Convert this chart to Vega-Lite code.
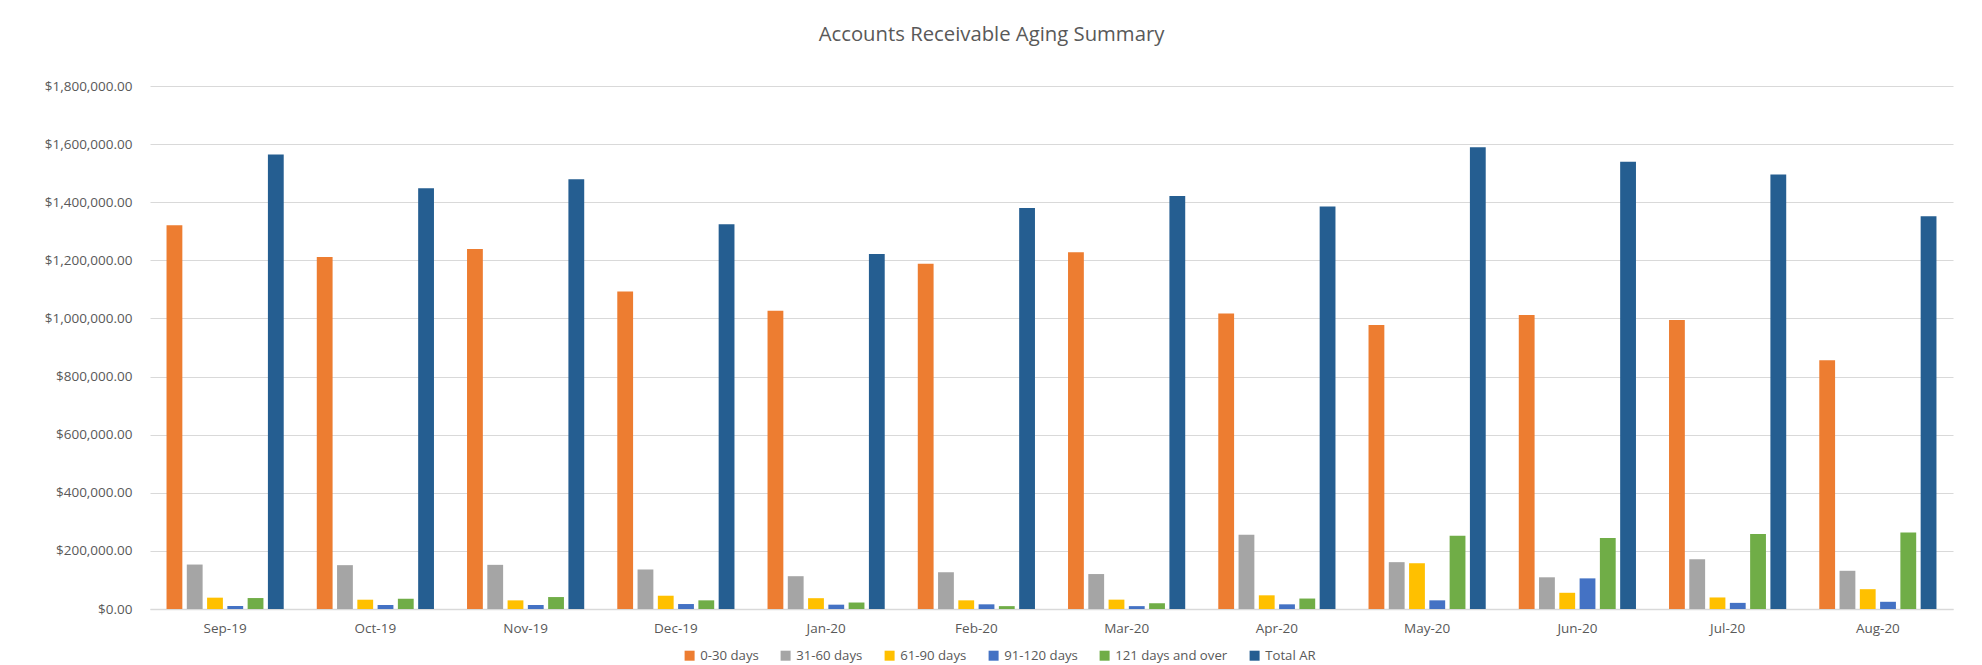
{
  "$schema": "https://vega.github.io/schema/vega-lite/v6.json",
  "width": 1803,
  "height": 523,
  "autosize": {"type": "none"},
  "padding": {"left": 150, "top": 86, "right": 29, "bottom": 56},
  "background": "white",
  "title": {
    "text": "Accounts Receivable Aging Summary",
    "font": "Open Sans",
    "fontSize": 20.3,
    "fontWeight": "normal",
    "color": "#595959",
    "anchor": "middle",
    "frame": "group",
    "dx": -60,
    "offset": 34
  },
  "config": {
    "view": {"stroke": null},
    "font": "Open Sans"
  },
  "data": {
    "values": [
      {"month": "Sep-19", "category": "0-30 days", "value": 1321000},
      {"month": "Sep-19", "category": "31-60 days", "value": 153000},
      {"month": "Sep-19", "category": "61-90 days", "value": 39000},
      {"month": "Sep-19", "category": "91-120 days", "value": 10300},
      {"month": "Sep-19", "category": "121 days and over", "value": 37700},
      {"month": "Sep-19", "category": "Total AR", "value": 1564600},
      {"month": "Oct-19", "category": "0-30 days", "value": 1211400},
      {"month": "Oct-19", "category": "31-60 days", "value": 150900},
      {"month": "Oct-19", "category": "61-90 days", "value": 32000},
      {"month": "Oct-19", "category": "91-120 days", "value": 13700},
      {"month": "Oct-19", "category": "121 days and over", "value": 35400},
      {"month": "Oct-19", "category": "Total AR", "value": 1448000},
      {"month": "Nov-19", "category": "0-30 days", "value": 1238900},
      {"month": "Nov-19", "category": "31-60 days", "value": 152000},
      {"month": "Nov-19", "category": "61-90 days", "value": 29700},
      {"month": "Nov-19", "category": "91-120 days", "value": 13700},
      {"month": "Nov-19", "category": "121 days and over", "value": 41100},
      {"month": "Nov-19", "category": "Total AR", "value": 1478900},
      {"month": "Dec-19", "category": "0-30 days", "value": 1092600},
      {"month": "Dec-19", "category": "31-60 days", "value": 136000},
      {"month": "Dec-19", "category": "61-90 days", "value": 45700},
      {"month": "Dec-19", "category": "91-120 days", "value": 17100},
      {"month": "Dec-19", "category": "121 days and over", "value": 29800},
      {"month": "Dec-19", "category": "Total AR", "value": 1324600},
      {"month": "Jan-20", "category": "0-30 days", "value": 1026300},
      {"month": "Jan-20", "category": "31-60 days", "value": 112900},
      {"month": "Jan-20", "category": "61-90 days", "value": 37200},
      {"month": "Jan-20", "category": "91-120 days", "value": 14900},
      {"month": "Jan-20", "category": "121 days and over", "value": 22300},
      {"month": "Jan-20", "category": "Total AR", "value": 1221700},
      {"month": "Feb-20", "category": "0-30 days", "value": 1188200},
      {"month": "Feb-20", "category": "31-60 days", "value": 126500},
      {"month": "Feb-20", "category": "61-90 days", "value": 29800},
      {"month": "Feb-20", "category": "91-120 days", "value": 16100},
      {"month": "Feb-20", "category": "121 days and over", "value": 9900},
      {"month": "Feb-20", "category": "Total AR", "value": 1380500},
      {"month": "Mar-20", "category": "0-30 days", "value": 1227900},
      {"month": "Mar-20", "category": "31-60 days", "value": 120300},
      {"month": "Mar-20", "category": "61-90 days", "value": 32200},
      {"month": "Mar-20", "category": "91-120 days", "value": 9900},
      {"month": "Mar-20", "category": "121 days and over", "value": 19800},
      {"month": "Mar-20", "category": "Total AR", "value": 1421400},
      {"month": "Apr-20", "category": "0-30 days", "value": 1017000},
      {"month": "Apr-20", "category": "31-60 days", "value": 255500},
      {"month": "Apr-20", "category": "61-90 days", "value": 47100},
      {"month": "Apr-20", "category": "91-120 days", "value": 16100},
      {"month": "Apr-20", "category": "121 days and over", "value": 36000},
      {"month": "Apr-20", "category": "Total AR", "value": 1385400},
      {"month": "May-20", "category": "0-30 days", "value": 977300},
      {"month": "May-20", "category": "31-60 days", "value": 161200},
      {"month": "May-20", "category": "61-90 days", "value": 157500},
      {"month": "May-20", "category": "91-120 days", "value": 29800},
      {"month": "May-20", "category": "121 days and over", "value": 251800},
      {"month": "May-20", "category": "Total AR", "value": 1588800},
      {"month": "Jun-20", "category": "0-30 days", "value": 1012100},
      {"month": "Jun-20", "category": "31-60 days", "value": 109100},
      {"month": "Jun-20", "category": "61-90 days", "value": 55800},
      {"month": "Jun-20", "category": "91-120 days", "value": 105400},
      {"month": "Jun-20", "category": "121 days and over", "value": 244300},
      {"month": "Jun-20", "category": "Total AR", "value": 1539200},
      {"month": "Jul-20", "category": "0-30 days", "value": 994700},
      {"month": "Jul-20", "category": "31-60 days", "value": 171200},
      {"month": "Jul-20", "category": "61-90 days", "value": 39700},
      {"month": "Jul-20", "category": "91-120 days", "value": 21100},
      {"month": "Jul-20", "category": "121 days and over", "value": 258000},
      {"month": "Jul-20", "category": "Total AR", "value": 1495800},
      {"month": "Aug-20", "category": "0-30 days", "value": 855800},
      {"month": "Aug-20", "category": "31-60 days", "value": 131500},
      {"month": "Aug-20", "category": "61-90 days", "value": 68200},
      {"month": "Aug-20", "category": "91-120 days", "value": 24800},
      {"month": "Aug-20", "category": "121 days and over", "value": 262900},
      {"month": "Aug-20", "category": "Total AR", "value": 1351900}
    ]
  },
  "mark": {"type": "bar"},
  "encoding": {
    "x": {
      "field": "month",
      "type": "nominal",
      "sort": null,
      "scale": {"paddingInner": 0.22, "paddingOuter": 0.11},
      "axis": {
        "title": null,
        "labelAngle": 0,
        "labelFont": "Open Sans",
        "labelFontSize": 13.5,
        "labelColor": "#595959",
        "ticks": false,
        "tickSize": 0,
        "labelPadding": 12,
        "domainColor": "#d9d9d9",
        "domainWidth": 1.3,
        "grid": false
      }
    },
    "xOffset": {
      "field": "category",
      "type": "nominal",
      "sort": ["0-30 days", "31-60 days", "61-90 days", "91-120 days", "121 days and over", "Total AR"],
      "scale": {"paddingInner": 0.22, "paddingOuter": 0}
    },
    "y": {
      "field": "value",
      "type": "quantitative",
      "scale": {"domain": [0, 1800000], "nice": false},
      "axis": {
        "title": null,
        "values": [0, 200000, 400000, 600000, 800000, 1000000, 1200000, 1400000, 1600000, 1800000],
        "format": "$,.2f",
        "labelFont": "Open Sans",
        "labelFontSize": 13.5,
        "labelColor": "#595959",
        "ticks": false,
        "tickSize": 0,
        "labelPadding": 18,
        "domain": false,
        "grid": true,
        "gridColor": "#d9d9d9",
        "gridWidth": 1.2
      }
    },
    "color": {
      "field": "category",
      "type": "nominal",
      "scale": {
        "domain": ["0-30 days", "31-60 days", "61-90 days", "91-120 days", "121 days and over", "Total AR"],
        "range": ["#ED7D31", "#A5A5A5", "#FFC000", "#4472C4", "#70AD47", "#255E91"]
      },
      "legend": {
        "title": null,
        "orient": "none",
        "direction": "horizontal",
        "legendX": 533,
        "legendY": 563,
        "symbolType": "square",
        "symbolSize": 100,
        "symbolStrokeWidth": 0,
        "labelFont": "Open Sans",
        "labelFontSize": 13.2,
        "labelColor": "#595959",
        "labelOffset": 4,
        "columnPadding": 20,
        "padding": 0
      }
    }
  }
}
